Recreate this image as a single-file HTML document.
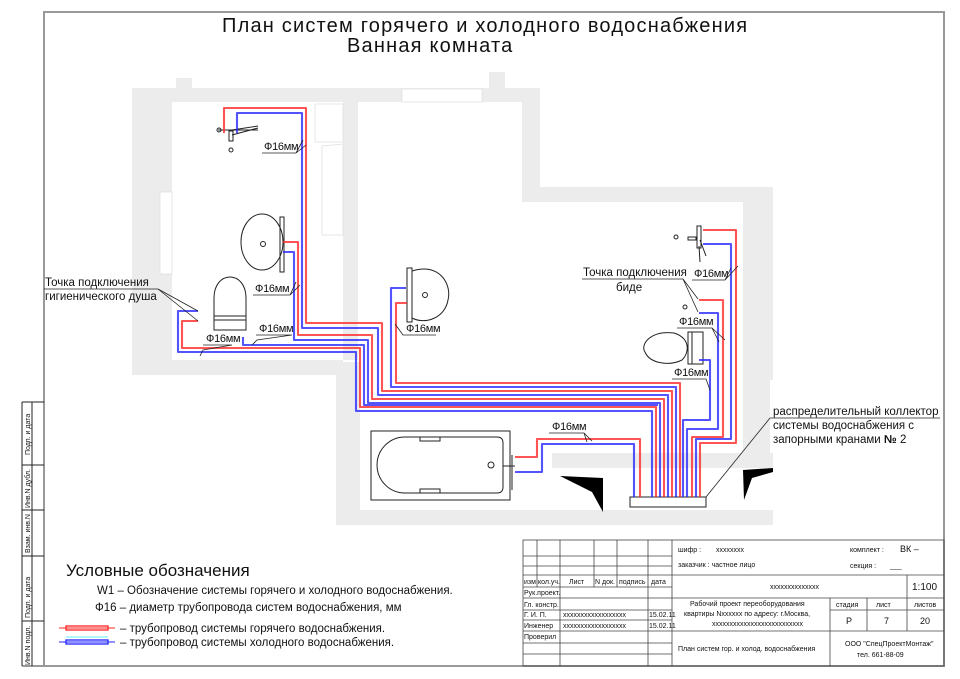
<!DOCTYPE html>
<html><head><meta charset="utf-8"><style>
html,body{margin:0;padding:0;background:#fff;}
svg{display:block;}
text{font-family:"Liberation Sans","DejaVu Sans",sans-serif;fill:#111;}
</style></head><body>
<svg width="960" height="679" viewBox="0 0 960 679" xmlns="http://www.w3.org/2000/svg">
<rect x="44" y="12" width="900" height="654" fill="none" stroke="#999" stroke-width="2"/>
<line x1="22" y1="666" x2="44" y2="666" stroke="#999" stroke-width="2"/>
<g stroke="#222" stroke-width="1" fill="none">
<line x1="22" y1="402" x2="22" y2="666"/><line x1="32" y1="402" x2="32" y2="666"/>
<line x1="22" y1="402" x2="44" y2="402"/><line x1="22" y1="465" x2="44" y2="465"/>
<line x1="22" y1="510" x2="44" y2="510"/><line x1="22" y1="556" x2="44" y2="556"/>
<line x1="22" y1="621" x2="44" y2="621"/>
</g>
<g font-size="7">
<text transform="translate(30,455) rotate(-90)">Подп. и дата</text>
<text transform="translate(30,508) rotate(-90)">Инв.N дубл.</text>
<text transform="translate(30,553) rotate(-90)">Взам. инв.N</text>
<text transform="translate(30,618) rotate(-90)">Подп. и дата</text>
<text transform="translate(30,665) rotate(-90)">Инв.N подл.</text>
</g>
<text x="222" y="32" font-size="20" letter-spacing="1.2">План систем горячего и холодного водоснабжения</text>
<text x="347" y="52" font-size="20" letter-spacing="1.2">Ванная комната</text>
<g fill="#ececec">
<polygon points="132,88 540,88 540,187 773,187 773,525 336,525 336,375 132,375"/>
<rect x="176" y="78" width="16" height="12"/>
<rect x="489" y="72" width="16" height="18"/>
</g>
<g fill="#fff">
<rect x="172" y="102" width="171" height="258"/>
<polygon points="358,102 522,102 522,202 743,202 743,453 552,453 552,468 566,468 566,510 360,510 360,362 343,362 343,360 358,360"/>
<rect x="566" y="468" width="207" height="42"/>
<rect x="402" y="89" width="80" height="13" stroke="#ddd" stroke-width="0.7"/>
<rect x="160" y="192" width="12" height="82" stroke="#ddd" stroke-width="0.7"/>
<rect x="315" y="104" width="28" height="38" stroke="#ddd" stroke-width="0.7"/>
<polygon points="322,146 343,144 343,235 322,235" stroke="#ddd" stroke-width="0.7"/>
<rect x="770" y="380" width="170" height="73"/>
</g>
<polygon points="560,476 603,478 603,512 592,492" fill="#000"/>
<polygon points="743,470 773,468 773,472 752,478 744,500" fill="#000"/>
<g fill="none" stroke="#222" stroke-width="1">
<line x1="218" y1="130" x2="258" y2="130"/><line x1="232" y1="130" x2="258" y2="126"/>
<line x1="232" y1="135" x2="258" y2="128"/>
<rect x="229" y="131" width="4" height="10"/>
<circle cx="219" cy="130" r="2"/><circle cx="231" cy="150" r="2"/>
<ellipse cx="262" cy="242" rx="21" ry="28"/>
<rect x="280" y="217" width="4" height="55"/>
<circle cx="263" cy="244" r="2.5"/>
<path d="M214,316 L214,298 C214,270 246,270 246,298 L246,316 Z"/>
<rect x="214" y="316" width="32" height="14"/><line x1="214" y1="320" x2="246" y2="320"/>
<rect x="407" y="268" width="5" height="54"/>
<path d="M412,271 C440,262 452,285 448,300 C445,318 425,325 412,318"/>
<circle cx="425" cy="295" r="2.5"/>
<rect x="697" y="226" width="4" height="22"/><line x1="699" y1="246" x2="700" y2="262"/>
<line x1="700" y1="240" x2="706" y2="256"/><circle cx="676" cy="237" r="2"/><rect x="688" y="237" width="8" height="3"/>
<circle cx="685" cy="307" r="2"/>
<path d="M674,333 C650,330 640,345 645,352 C650,364 670,366 682,360 C690,352 690,338 674,333"/>
<rect x="688" y="332" width="15" height="32"/><line x1="692" y1="332" x2="692" y2="364"/>
<rect x="371" y="431" width="139" height="69"/>
<path d="M405,437 L497,437 Q503,437 503,443 L503,487 Q503,493 497,493 L405,493 A28,28 0 0 1 405,437 Z"/>
<rect x="420" y="437" width="20" height="4"/><rect x="420" y="489" width="20" height="4"/>
<circle cx="491" cy="465" r="3"/>
<line x1="512" y1="455" x2="512" y2="490"/><line x1="503" y1="466" x2="515" y2="466"/>
<rect x="630" y="497" width="76" height="10" fill="#fff"/>
</g>
<g fill="none" stroke-width="2.1" stroke-linejoin="round" opacity="0.8">
<g stroke="#ff2a2a">
<polyline points="224,133 224,108 306,108 306,323 382,323 382,391 672,391 672,497"/>
<polyline points="283,242 298,242 298,335 372,335 372,399 664,399 664,497"/>
<polyline points="198,321 182,321 182,348 360,348 360,407 656,407 656,497"/>
<polyline points="407,303 396,303 396,383 680,383 680,497"/>
<polyline points="703,230 736,230 736,443 700,443 700,497"/>
<polyline points="699,300 723,300 723,437 692,437 692,497"/>
<polyline points="515,457 537,457 537,439 640,439 640,497"/>
</g>
<g stroke="#2a2aff">
<polyline points="237,133 237,113 302,113 302,328 378,328 378,395 668,395 668,497"/>
<polyline points="283,252 294,252 294,340 368,340 368,403 660,403 660,497"/>
<polyline points="243,337 243,345 364,345 364,405 658,405"/>
<polyline points="198,311 178,311 178,352 356,352 356,411 652,411 652,497"/>
<polyline points="406,288 391,288 391,387 676,387 676,497"/>
<polyline points="703,244 731,244 731,439 696,439 696,497"/>
<polyline points="699,313 718,313 718,429 687,429 687,497"/>
<polyline points="699,360 710,360 710,420 683,420 683,497"/>
<polyline points="515,472 542,472 542,444 634,444 634,497"/>
</g>
</g>
<g font-size="11" letter-spacing="-0.3">
<text x="264" y="150">Ф16мм</text><text x="255" y="292">Ф16мм</text>
<text x="259" y="332">Ф16мм</text><text x="206" y="342">Ф16мм</text>
<text x="406" y="332">Ф16мм</text><text x="694" y="277">Ф16мм</text>
<text x="679" y="325">Ф16мм</text><text x="674" y="376">Ф16мм</text>
<text x="552" y="430">Ф16мм</text>
</g>
<g stroke="#222" stroke-width="0.8" fill="none">
<polyline points="262,153 296,153 303,140 296,153 306,145"/>
<polyline points="253,295 290,295 296,282 290,295 300,285"/>
<polyline points="256,335 292,335 257,340 252,345"/>
<polyline points="203,345 232,345 203,350 200,356"/>
<polyline points="403,335 436,335 403,335 395,324"/>
<polyline points="692,280 725,280 731,268 725,280 738,266"/>
<polyline points="677,328 712,328 719,342 712,328 725,340"/>
<polyline points="672,379 706,379 710,390"/>
<polyline points="549,433 584,433 587,442 584,433 592,441"/>
<line x1="44" y1="289" x2="158" y2="289"/>
<line x1="158" y1="289" x2="198" y2="311"/><line x1="158" y1="289" x2="198" y2="321"/>
<line x1="582" y1="279" x2="683" y2="279"/>
<line x1="683" y1="279" x2="698" y2="299"/><line x1="683" y1="279" x2="698" y2="312"/>
<line x1="770" y1="418" x2="940" y2="418"/><line x1="770" y1="418" x2="706" y2="497"/>
</g>
<g font-size="11.5">
<text x="45" y="286">Точка подключения</text>
<text x="45" y="300">гигиенического душа</text>
<text x="583" y="276">Точка подключения</text>
<text x="616" y="291">биде</text>
<text x="773" y="415">распределительный коллектор</text>
<text x="773" y="429">системы водоснабжения с</text>
<text x="773" y="443">запорными кранами <tspan font-weight="bold">№</tspan> 2</text>
</g>
<text x="66" y="576" font-size="17">Условные обозначения</text>
<text x="97" y="594" font-size="11.5">W1 – Обозначение системы горячего и холодного водоснабжения.</text>
<text x="95" y="611" font-size="11.5">Ф16 – диаметр трубопровода систем водоснабжения, мм</text>
<rect x="66" y="626" width="42" height="4" fill="none" stroke="#f22" stroke-width="1.3"/>
<line x1="59" y1="628" x2="115" y2="628" stroke="#f22"/>
<rect x="66" y="640" width="42" height="4" fill="none" stroke="#22f" stroke-width="1.3"/>
<line x1="59" y1="642" x2="115" y2="642" stroke="#22f"/>
<line x1="66" y1="637" x2="108" y2="637" stroke="#6ee"/>
<text x="120" y="632" font-size="11.5">– трубопровод системы горячего водоснабжения.</text>
<text x="120" y="646" font-size="11.5">– трубопровод системы холодного водоснабжения.</text>
<g stroke="#444" stroke-width="0.8" fill="none">
<rect x="523" y="540" width="421" height="126"/>
<line x1="672" y1="540" x2="672" y2="666"/>
<line x1="523" y1="556" x2="672" y2="556"/><line x1="523" y1="566" x2="672" y2="566"/>
<line x1="523" y1="575" x2="944" y2="575"/><line x1="523" y1="587" x2="672" y2="587"/>
<line x1="523" y1="598" x2="944" y2="598"/><line x1="523" y1="610" x2="672" y2="610"/>
<line x1="523" y1="620" x2="672" y2="620"/><line x1="523" y1="631" x2="944" y2="631"/>
<line x1="523" y1="643" x2="672" y2="643"/><line x1="523" y1="654" x2="672" y2="654"/>
<line x1="537" y1="540" x2="537" y2="587"/><line x1="560" y1="540" x2="560" y2="666"/>
<line x1="594" y1="540" x2="594" y2="587"/><line x1="617" y1="540" x2="617" y2="587"/>
<line x1="648" y1="540" x2="648" y2="666"/>
<line x1="907" y1="575" x2="907" y2="631"/><line x1="830" y1="598" x2="830" y2="666"/>
<line x1="867" y1="598" x2="867" y2="631"/><line x1="830" y1="610" x2="944" y2="610"/>
</g>
<g font-size="7" fill="#333">
<text x="678" y="552">шифр :</text><text x="716" y="552">xxxxxxxx</text>
<text x="678" y="567">заказчик : частное лицо</text>
<text x="850" y="552">комплект :</text><text x="900" y="552" font-size="9">ВК –</text>
<text x="850" y="568">секция :</text><text x="890" y="568">___</text>
<text x="524" y="584">изм</text><text x="538" y="584">кол.уч.</text><text x="569" y="584">Лист</text>
<text x="595" y="584">N док.</text><text x="619" y="584">подпись</text><text x="651" y="584">дата</text>
<text x="524" y="595">Рук.проект.</text><text x="524" y="607">Гл. констр.</text>
<text x="524" y="617">Г. И. П.</text><text x="524" y="628" fill="#000">Инженер</text>
<text x="524" y="639">Проверил</text>
<text x="563" y="617">xxxxxxxxxxxxxxxxxx</text><text x="563" y="628">xxxxxxxxxxxxxxxxxx</text>
<text x="649" y="617">15.02.11</text><text x="649" y="628">15.02.11</text>
<text x="770" y="589">xxxxxxxxxxxxxx</text>
<text x="912" y="590" font-size="10">1:100</text>
<text x="690" y="606">Рабочий проект переоборудования</text>
<text x="684" y="616">квартиры Nxxxxxx по адресу: г.Москва,</text>
<text x="712" y="626">xxxxxxxxxxxxxxxxxxxxxxxxxx</text>
<text x="836" y="607">стадия</text><text x="876" y="607">лист</text><text x="914" y="607">листов</text>
<text x="846" y="624" font-size="9">Р</text><text x="884" y="624" font-size="9">7</text><text x="920" y="624" font-size="9">20</text>
<text x="678" y="651">План систем гор. и холод. водоснабжения</text>
<text x="845" y="646">ООО "СпецПроектМонтаж"</text>
<text x="857" y="657">тел. 661-88-09</text>
</g>
</svg>
</body></html>
